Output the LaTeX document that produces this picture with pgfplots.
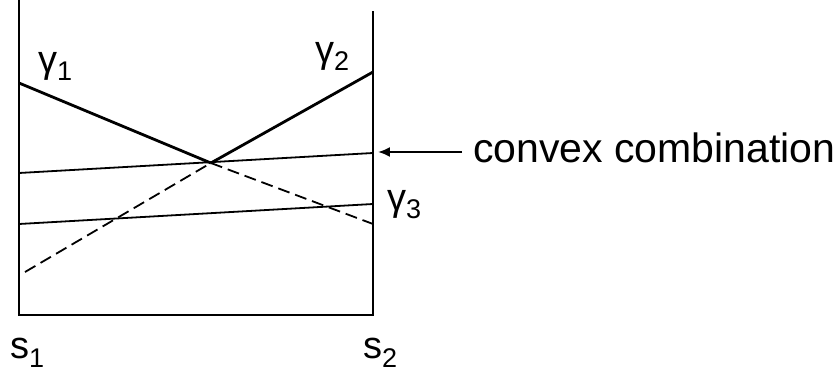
\documentclass[border=0pt]{standalone}
\usepackage{pgfplots}
\pgfplotsset{compat=1.18}
\usepackage{fontspec}
\setmainfont{Liberation Sans}
\usetikzlibrary{arrows.meta}

% symbol with a lowered index
\newcommand{\glab}[1]{{\fontsize{38}{42}\selectfont γ\raisebox{-8pt}{\fontsize{27}{30}\selectfont #1}}}
\newcommand{\slab}[1]{{\fontsize{38}{42}\selectfont s\raisebox{-9pt}{\fontsize{27}{30}\selectfont #1}}}

\begin{document}
\begin{tikzpicture}
\path[use as bounding box] (0pt,0pt) rectangle (834pt,375pt);
\begin{axis}[
  at={(19pt,60pt)}, anchor=south west,
  scale only axis, width=354pt, height=315pt,
  xmin=0, xmax=1, ymin=60, ymax=375,
  hide axis, clip=false,
]
% frame: two vertical walls joined at the bottom
\draw[line width=2.8pt, line cap=rect] (axis cs:0,375) -- (axis cs:0,60) -- (axis cs:1,60) -- (axis cs:1,363);

% gamma_1: solid down to the crossing, dashed afterwards
\addplot[black, line width=2.8pt] coordinates {(0,292) (0.542,212)};
\addplot[black, line width=1.8pt, dash pattern=on 12pt off 6pt] coordinates {(0.542,212) (1,151)};
% gamma_2: dashed up to the crossing, solid afterwards
\addplot[black, line width=1.8pt, dash pattern=on 12pt off 6pt] coordinates {(0.017,103) (0.542,212)};
\addplot[black, line width=2.8pt] coordinates {(0.542,212) (1,303)};
% convex combination
\addplot[black, line width=1.8pt] coordinates {(0,202) (1,222)};
% gamma_3
\addplot[black, line width=1.8pt] coordinates {(0,151) (1,171)};

% arrow and caption
\draw[line width=1.9pt, -{Latex[length=12pt,width=10pt]}] (axis cs:1.2514,223) -- (axis cs:1.0141,223);
\node[anchor=base west, inner sep=0pt] at (axis cs:1.2825,212)
  {\fontsize{41}{46}\selectfont convex combination};

% curve labels
\node[anchor=base west, inner sep=0pt] at (axis cs:0.0537,302.5) {\glab{1}};
\node[anchor=base west, inner sep=0pt] at (axis cs:0.836,312.5) {\glab{2}};
\node[anchor=base west, inner sep=0pt] at (axis cs:1.0395,164.5) {\glab{3}};

% endpoint labels
\node[anchor=base west, inner sep=0pt] at (axis cs:-0.0254,17) {\slab{1}};
\node[anchor=base west, inner sep=0pt] at (axis cs:0.9718,17) {\slab{2}};
\end{axis}
\end{tikzpicture}
\end{document}
